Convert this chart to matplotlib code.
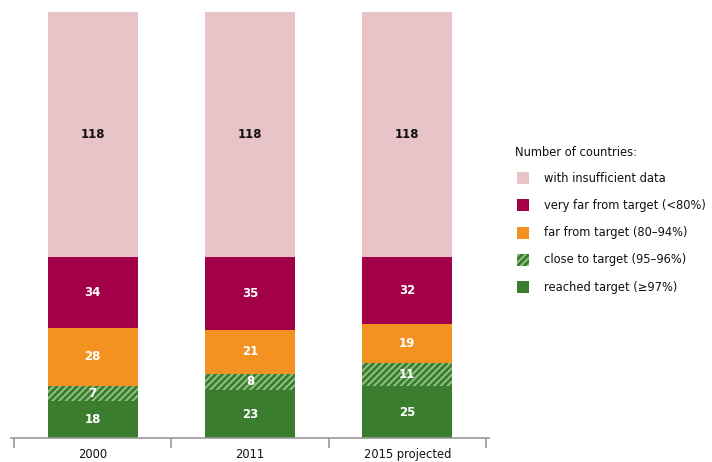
import matplotlib
matplotlib.use("Agg")
import matplotlib.pyplot as plt
import matplotlib.patches as mpatches
import numpy as np

plt.rcParams['hatch.linewidth'] = 1.4

categories = ["2000", "2011", "2015 projected"]
reached = [18, 23, 25]
close = [7, 8, 11]
far = [28, 21, 19]
very_far = [34, 35, 32]
insufficient = [118, 118, 118]

series = [reached, close, far, very_far, insufficient]
colors = ["#3b7d2e", "#3b7d2e", "#f39220", "#a3004a", "#e8c3c8"]
hatches = [None, "/////", None, None, None]
text_colors = ["white", "white", "white", "white", "#111111"]

fig = plt.figure(figsize=(7.12, 4.62), dpi=100)
ax = fig.add_axes([11/712, 1-438/462, (489-11)/712, (438-12)/462])

x = np.arange(len(categories))
bottom = np.zeros(len(categories))
width = 0.57
for vals, c, h, tc in zip(series, colors, hatches, text_colors):
    vals = np.array(vals, dtype=float)
    ax.bar(x, vals, width, bottom=bottom, color=c, linewidth=0,
           hatch=h, edgecolor="#93c285" if h else c)
    for xi, b, v in zip(x, bottom, vals):
        ax.text(xi, b + v/2, f"{int(v)}", ha="center", va="center",
                color=tc, fontsize=8.5, fontweight="bold")
    bottom += vals

ax.set_xlim(-0.52, 2.52)
ax.set_ylim(0, 205)
for s in ["top", "right", "left"]:
    ax.spines[s].set_visible(False)
ax.spines["bottom"].set_color("#999999")
ax.spines["bottom"].set_linewidth(1.2)
ax.set_yticks([])
ax.set_xticks([-0.5, 0.5, 1.5, 2.5])
ax.set_xticklabels([])
ax.tick_params(axis="x", length=7, color="#999999", width=1.2, direction="out")
for xi, lab in zip(x, categories):
    ax.text(xi, -5, lab, ha="center", va="top", fontsize=8.3, color="#111111",
            clip_on=False)

# legend
fig.text(515/712, 1-152/462, "Number of countries:", fontsize=8.3, color="#111111",
         va="center", ha="left")
leg_items = [("with insufficient data", "#e8c3c8", None),
             ("very far from target (<80%)", "#a3004a", None),
             ("far from target (80–94%)", "#f39220", None),
             ("close to target (95–96%)", "#3b7d2e", "/////"),
             ("reached target (≥97%)", "#3b7d2e", None)]
ys = [178, 205, 233, 260, 287]
for (lab, c, h), yp in zip(leg_items, ys):
    r = mpatches.Rectangle((517/712, 1-(yp+6)/462), 12/712, 12/462,
                           transform=fig.transFigure, facecolor=c,
                           hatch=h, edgecolor="#93c285" if h else c, linewidth=0)
    fig.patches.append(r)
    fig.text(544/712, 1-yp/462, lab, fontsize=8.3, color="#111111",
             va="center", ha="left")

fig.savefig("out.png", dpi=100)
